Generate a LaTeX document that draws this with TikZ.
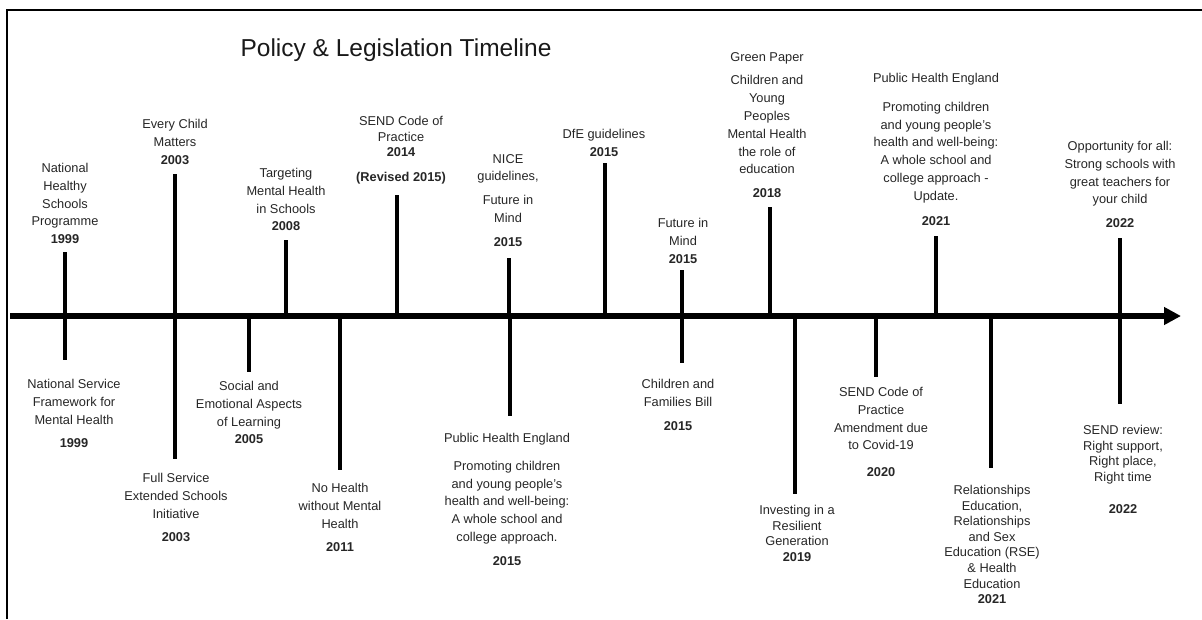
\documentclass[tikz,border=0pt]{standalone}
\usepackage{fontspec}
\setmainfont{Liberation Sans}
\usepackage{xcolor}
\usetikzlibrary{arrows.meta}
\definecolor{inkgray}{HTML}{262626}

\begin{document}
\begin{tikzpicture}[x=1pt,y=-1pt,
		lbl/.style={align=center,inner sep=0pt,anchor=north,text=inkgray,font=\fontsize{12.8}{17.8}\selectfont},
		tight/.style={font=\fontsize{12.8}{15.6}\selectfont},
		tick/.style={line width=4pt},
		axisline/.style={line width=6pt,-{Triangle[length=17pt,width=17pt]}}]
			\useasboundingbox (0,0) rectangle (1202,619);
			\draw[line width=1.6pt] (7,619) -- (7,10) -- (1202,10);
			\node[inner sep=0pt,text=black!90,font=\fontsize{24.5}{28}\selectfont] (title) at (396,50) {Policy \& Legislation Timeline};
			\coordinate (start) at (10,316);
			\coordinate (end) at (1181,316);
			\draw[axisline] (start) -- (end);
			\foreach \name/\x/\y in {nhsp/65/252,ecm/175/174,tmh/286/240,sendcop/397/195,nice/509/258,dfe/605/163,fim/682/270,greenpaper/770/207,phe21/936/236,opp/1120/238,nsf/65/360,fses/175/459,seal/249/372,nohealth/340/470,phe15/510/416,cfb/682/363,irg/795/494,covid/876/377,rse/991/468,review/1120/404}
			{
				\coordinate (\name-a) at (\x,316);
				\coordinate (\name-b) at (\x,\y);
				\draw[tick] (\name-a) -- (\name-b);
			}
			\node[lbl] (nhsp) at (65,163) {National\\Healthy\\Schools\\Programme\\\textbf{1999}};
			\node[lbl] (ecm) at (175,119) {Every Child\\Matters\\\textbf{2003}};
			\node[lbl] (tmh) at (286,168) {Targeting\\Mental Health\\in Schools\\\textbf{2008}};
			\node[lbl,tight] (sendcop) at (401,116) {SEND Code of\\Practice\\\textbf{2014}\\[9pt]\textbf{(Revised 2015)}};
			\node[lbl] (nice) at (508,154) {NICE\\guidelines,\\[6pt]Future in\\Mind\\[6pt]\textbf{2015}};
			\node[lbl] (dfe) at (604,129) {DfE guidelines\\\textbf{2015}};
			\node[lbl] (fim) at (683,218) {Future in\\Mind\\\textbf{2015}};
			\node[lbl] (greenpaper) at (767,52) {Green Paper\\[6pt]Children and\\Young\\Peoples\\Mental Health\\the role of\\education\\[6pt]\textbf{2018}};
			\node[lbl] (phe21) at (936,73) {Public Health England\\[11pt]Promoting children\\and young people's\\health and well-being:\\A whole school and\\college approach -\\Update.\\[7pt]\textbf{2021}};
			\node[lbl] (opp) at (1120,141) {Opportunity for all:\\Strong schools with\\great teachers for\\your child\\[6pt]\textbf{2022}};
			\node[lbl] (nsf) at (74,379) {National Service\\Framework for\\Mental Health\\[6pt]\textbf{1999}};
			\node[lbl] (fses) at (176,473) {Full Service\\Extended Schools\\Initiative\\[6pt]\textbf{2003}};
			\node[lbl] (seal) at (249,381) {Social and\\Emotional Aspects\\of Learning\\\textbf{2005}};
			\node[lbl] (nohealth) at (340,483) {No Health\\without Mental\\Health\\[6pt]\textbf{2011}};
			\node[lbl] (phe15) at (507,433) {Public Health England\\[10pt]Promoting children\\and young people's\\health and well-being:\\A whole school and\\college approach.\\[6pt]\textbf{2015}};
			\node[lbl] (cfb) at (678,379) {Children and\\Families Bill\\[6pt]\textbf{2015}};
			\node[lbl,tight] (irg) at (797,505) {Investing in a\\Resilient\\Generation\\\textbf{2019}};
			\node[lbl] (covid) at (881,387) {SEND Code of\\Practice\\Amendment due\\to Covid-19\\[9pt]\textbf{2020}};
			\node[lbl,tight] (rse) at (992,485) {Relationships\\Education,\\Relationships\\and Sex\\Education (RSE)\\\& Health\\Education\\\textbf{2021}};
			\node[lbl,tight] (review) at (1123,425) {SEND review:\\Right support,\\Right place,\\Right time\\[17pt]\textbf{2022}};
		\end{tikzpicture}
\end{document}
